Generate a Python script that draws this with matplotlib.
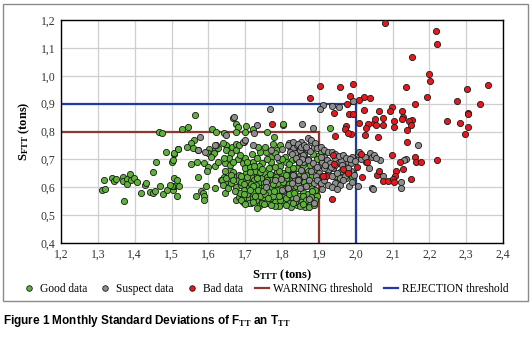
import numpy as np
import matplotlib
matplotlib.use("Agg")
import matplotlib.pyplot as plt
from matplotlib.ticker import FuncFormatter, MultipleLocator
from matplotlib.patches import Rectangle
from matplotlib.lines import Line2D

plt.rcParams['font.family'] = ['Liberation Serif', 'DejaVu Serif']
plt.rcParams['mathtext.fontset'] = 'custom'
plt.rcParams['mathtext.rm'] = 'Liberation Serif'
plt.rcParams['mathtext.bf'] = 'Liberation Serif:bold'

# ---------------- data (S_TTT, S_FTT) ----------------
good_pts = [
    (1.310,0.591),(1.319,0.594),(1.318,0.627),(1.338,0.634),(1.345,0.622),(1.350,0.630),(1.367,0.638),
    (1.367,0.624),(1.379,0.630),(1.379,0.612),(1.388,0.647),(1.391,0.627),(1.399,0.633),(1.406,0.618),
    (1.370,0.552),(1.418,0.579),(1.429,0.609),(1.432,0.615),(1.442,0.583),(1.449,0.581),(1.456,0.585),
    (1.469,0.603),(1.478,0.576),(1.489,0.591),(1.503,0.591),(1.506,0.605),(1.513,0.609),(1.521,0.605),
    (1.515,0.567),(1.501,0.605),(1.495,0.609),(1.506,0.633),(1.516,0.627),
    (1.467,0.800),(1.474,0.794),(1.528,0.810),(1.546,0.816),(1.563,0.860),(1.611,0.810),(1.485,0.727),
    (1.519,0.738),(1.507,0.721),(1.458,0.692),(1.501,0.692),(1.503,0.698),(1.449,0.654),
    (1.562,0.770),(1.553,0.758),(1.542,0.746),(1.558,0.740),(1.573,0.734),(1.603,0.736),(1.598,0.722),
    (1.609,0.716),(1.618,0.734),(1.626,0.740),(1.615,0.722),(1.606,0.710),(1.506,0.722),(1.519,0.736),
    (1.553,0.683),(1.569,0.689),(1.589,0.686),(1.598,0.674),(1.597,0.660),(1.618,0.677),(1.571,0.635),
    (1.579,0.588),(1.585,0.581),(1.589,0.567),(1.589,0.555),(1.567,0.567),(1.594,0.603),(1.618,0.597),
    (1.634,0.627),(1.642,0.636),(1.646,0.620),(1.646,0.579),
    (1.668,0.850),(1.676,0.828),(1.680,0.816),(1.702,0.818),(1.720,0.808),(1.700,0.800),(1.760,0.800),
    (1.802,0.824),(1.804,0.828),(1.622,0.799),(1.643,0.795),(1.674,0.799),(1.778,0.779),
    (1.622,0.751),(1.648,0.751),(1.665,0.745),(1.676,0.755),(1.696,0.763),(1.787,0.733),(1.835,0.739),
    (1.843,0.751),(1.931,0.811),(1.907,0.727),(1.895,0.712),
    (1.640,0.758),(1.649,0.734),(1.662,0.722),(1.676,0.734),(1.684,0.752),(1.627,0.692),(1.645,0.686),
    (1.693,0.686),(1.707,0.686),(1.720,0.692),(1.733,0.704),(1.747,0.686),(1.756,0.728),(1.769,0.710),
    (1.782,0.722),(1.791,0.698),(1.809,0.710),(1.827,0.698),(1.845,0.686),(1.858,0.680),
    (1.636,0.626),(1.649,0.632),(1.658,0.662),(1.667,0.656),(1.671,0.638),(1.680,0.626),(1.684,0.644),
    (1.693,0.632),(1.702,0.650),(1.707,0.620),(1.716,0.638),(1.724,0.626),(1.733,0.644),(1.738,0.620),
    (1.747,0.632),(1.751,0.650),(1.760,0.638),(1.769,0.626),(1.778,0.644),(1.787,0.656),(1.796,0.638),
    (1.804,0.650),(1.813,0.632),(1.822,0.662),(1.831,0.650),(1.840,0.668),(1.849,0.644),(1.858,0.656),
    (1.640,0.608),(1.653,0.596),(1.662,0.614),(1.676,0.602),(1.689,0.608),(1.698,0.590),(1.711,0.602),
    (1.720,0.584),(1.729,0.608),(1.742,0.596),(1.756,0.602),(1.765,0.584),(1.773,0.602),(1.787,0.590),
    (1.800,0.608),(1.809,0.584),(1.822,0.602),(1.836,0.590),(1.849,0.608),(1.858,0.584),
    (1.676,0.554),(1.684,0.566),(1.693,0.548),(1.707,0.560),(1.716,0.543),(1.729,0.554),(1.738,0.531),
    (1.747,0.560),(1.760,0.543),(1.769,0.560),(1.782,0.548),(1.791,0.531),(1.804,0.554),(1.818,0.543),
    (1.831,0.560),(1.840,0.537),(1.853,0.554),
    (1.662,0.645),(1.690,0.620),(1.700,0.668),(1.715,0.612),(1.728,0.660),(1.740,0.570),(1.752,0.615),
    (1.765,0.668),(1.775,0.570),(1.790,0.615),(1.805,0.575),(1.815,0.665),(1.825,0.620),(1.835,0.548),
    (1.845,0.570),(1.860,0.620),(1.870,0.575),(1.880,0.600),(1.885,0.560),(1.875,0.540),(1.862,0.528),
    (1.848,0.532),(1.825,0.528),(1.812,0.560),(1.795,0.555),(1.780,0.532),(1.755,0.575),(1.745,0.545),
    (1.732,0.527),(1.720,0.560),(1.705,0.575),(1.695,0.560),(1.685,0.580),(1.672,0.585),(1.668,0.625),
    (1.700,0.705),(1.712,0.672),(1.738,0.678),(1.770,0.690),(1.795,0.675),(1.810,0.690),(1.838,0.700),
    (1.870,0.660),(1.880,0.640),(1.890,0.590),(1.895,0.570),(1.870,0.700),(1.860,0.720),(1.885,0.720),
    (1.895,0.700),(1.680,0.700),(1.660,0.680),(1.645,0.660),(1.690,0.555),(1.710,0.545),
    (1.905,0.680),(1.925,0.650),(1.945,0.640),(1.960,0.660),(1.975,0.633),(1.948,0.615),(1.990,0.640),
    (1.688,0.640),(1.697,0.612),(1.705,0.635),(1.713,0.655),(1.722,0.605),(1.731,0.632),(1.741,0.655),
    (1.750,0.600),(1.758,0.625),(1.767,0.648),(1.776,0.612),(1.784,0.636),(1.793,0.660),(1.802,0.620),
    (1.811,0.645),(1.819,0.612),(1.828,0.636),(1.837,0.605),(1.846,0.630),(1.855,0.600),(1.864,0.645),
    (1.873,0.615),(1.882,0.585),(1.890,0.555),(1.697,0.575),(1.712,0.590),(1.726,0.570),(1.735,0.590),
    (1.749,0.585),(1.762,0.560),(1.778,0.585),(1.792,0.570),(1.806,0.595),(1.818,0.575),(1.832,0.580),
    (1.856,0.570),(1.866,0.555),(1.878,0.565),(1.700,0.540),(1.722,0.548),(1.752,0.540),(1.770,0.538),
    (1.812,0.538),(1.830,0.545),(1.858,0.540),(1.872,0.530),(1.888,0.535),(1.705,0.690),(1.725,0.675),
    (1.745,0.665),(1.760,0.700),(1.780,0.672),(1.800,0.700),(1.820,0.685),(1.830,0.670),(1.850,0.710),
    (1.875,0.680),(1.890,0.665),(1.655,0.705),(1.668,0.690),(1.642,0.705),(1.686,0.715),(1.718,0.720),
    (1.740,0.725),(1.735,0.745),(1.755,0.745),(1.775,0.755),(1.795,0.750),
]

suspect_pts = [
    (1.767,0.880),(1.671,0.851),(1.733,0.825),(1.724,0.796),(1.649,0.787),(1.618,0.752),(1.693,0.764),
    (1.720,0.752),(1.855,0.828),(1.883,0.812),(1.578,0.780),(1.572,0.734),(1.590,0.725),
    (1.911,0.896),(1.904,0.882),(1.937,0.892),(1.955,0.887),(1.992,0.908),
    (1.700,0.769),(1.770,0.733),(1.800,0.736),(1.822,0.745),(1.837,0.727),(1.757,0.620),(1.796,0.629),
    (1.826,0.644),(1.835,0.626),(1.804,0.585),(1.843,0.614),
    (1.787,0.710),(1.818,0.758),(1.831,0.740),(1.840,0.752),(1.852,0.764),(1.822,0.728),(1.836,0.722),
    (1.849,0.734),(1.858,0.716),(1.844,0.626),(1.782,0.626),(1.800,0.590),(1.756,0.602),
    (1.817,0.751),(1.830,0.762),(1.843,0.756),(1.852,0.745),(1.861,0.751),(1.867,0.739),(1.878,0.762),
    (1.876,0.731),(1.887,0.745),
    (1.826,0.721),(1.839,0.704),(1.857,0.692),(1.870,0.698),(1.883,0.686),(1.896,0.674),(1.909,0.692),
    (1.913,0.709),(1.922,0.698),(1.930,0.686),(1.944,0.704),(1.952,0.686),(1.961,0.698),(1.970,0.674),
    (1.978,0.692),(1.987,0.686),(1.991,0.709),(1.939,0.668),(1.926,0.662),(1.913,0.668),(1.900,0.651),
    (1.891,0.639),(1.909,0.639),(1.922,0.645),(1.935,0.639),(1.948,0.651),(1.957,0.633),(1.970,0.639),
    (1.987,0.657),(1.978,0.657),(1.996,0.645),
    (1.830,0.645),(1.843,0.627),(1.861,0.639),(1.874,0.627),(1.887,0.615),(1.865,0.604),(1.848,0.598),
    (1.878,0.657),(1.852,0.662),(1.909,0.592),(1.926,0.609),(1.944,0.615),(1.957,0.609),(1.817,0.598),
    (1.826,0.615),(1.839,0.562),(1.874,0.557),(1.887,0.545),
    (2.006,0.718),(2.029,0.692),(2.043,0.598),(2.169,0.752),(2.137,0.701),(2.131,0.696),(2.124,0.618),
    (2.124,0.599),(2.009,0.725),(2.038,0.722),(2.044,0.710),(2.035,0.668),(2.065,0.698),(2.046,0.594),
    (2.073,0.640),(1.982,0.605),(2.006,0.605),
    (1.870,0.775),(1.880,0.770),(1.890,0.760),(1.895,0.740),(1.905,0.745),(1.915,0.735),(1.925,0.725),
    (1.935,0.725),(1.945,0.718),(1.955,0.712),(1.965,0.715),(1.975,0.705),(1.985,0.700),(1.998,0.695),
    (2.015,0.700),(2.025,0.710),(2.050,0.715),(2.055,0.705),(1.905,0.710),(1.918,0.680),(1.932,0.672),
    (1.945,0.680),(1.962,0.680),(1.980,0.670),(1.895,0.625),(1.905,0.615),(1.915,0.625),(1.935,0.600),
    (1.950,0.595),(1.965,0.625),(1.990,0.620),(1.865,0.745),(1.855,0.700),(1.845,0.690),
]

bad_pts = [
    (2.079,1.188),(2.218,1.160),(2.220,1.114),(2.152,1.066),(2.198,1.005),(2.203,0.982),(2.136,0.958),
    (2.359,0.967),(2.302,0.952),(2.195,0.925),(2.275,0.909),(2.338,0.899),(2.162,0.899),(1.904,0.964),
    (1.958,0.958),(1.992,0.972),(1.877,0.921),(2.023,0.925),(2.040,0.920),(2.009,0.913),(1.985,0.927),
    (1.977,0.899),(2.099,0.889),(2.023,0.876),(2.063,0.875),(2.094,0.873),(2.127,0.873),(2.304,0.866),
    (1.940,0.868),(1.982,0.863),(1.994,0.863),(1.973,0.820),(1.971,0.808),(1.987,0.792),(1.978,0.794),
    (1.945,0.784),(2.010,0.830),(2.033,0.828),(2.049,0.832),(2.029,0.812),(2.053,0.844),(2.073,0.848),
    (2.056,0.825),(2.075,0.824),(2.024,0.786),(2.060,0.782),(1.938,0.717),(2.015,0.719),(2.031,0.690),
    (2.004,0.674),(1.965,0.665),(1.940,0.684),(1.920,0.641),(1.912,0.641),(2.018,0.638),(2.059,0.643),
    (2.073,0.624),(2.088,0.624),(2.062,0.660),(1.935,0.557),(1.978,0.650),(1.772,0.828),
    (2.305,0.862),(2.128,0.851),(2.126,0.844),(2.153,0.842),(2.146,0.837),(2.151,0.823),(2.140,0.804),
    (2.104,0.836),(2.104,0.815),(2.247,0.838),(2.284,0.829),(2.306,0.817),(2.296,0.792),(2.139,0.762),
    (2.099,0.714),(2.160,0.707),(2.164,0.690),(2.178,0.690),(2.221,0.699),(2.120,0.690),(2.129,0.667),
    (2.110,0.660),(2.108,0.642),(2.151,0.630),(2.100,0.630),(2.104,0.620),
]

warning_x, warning_y = 1.9, 0.8
rejection_x, rejection_y = 2.0, 0.9

labels = ['Good data', 'Suspect data', 'Bad data', 'WARNING threshold', 'REJECTION threshold']
c_good, c_susp, c_bad = '#5eb13a', '#8e8e8e', '#e5181e'
c_warn, c_rej = '#8b3a2e', '#1f3c9e'

# ---------------- figure ----------------
W, H = 532, 338
fig = plt.figure(figsize=(W/100, H/100), dpi=100)
fig.patches.append(Rectangle((3/W, 1-301/H), 525/W, 297/H, transform=fig.transFigure,
                             fill=False, edgecolor='#8a8a8a', linewidth=1.0))
ax = fig.add_axes([61/W, 1-243/H, (503-61)/W, (243-20)/H])

ax.set_xlim(1.2, 2.4)
ax.set_ylim(0.4, 1.2)
ax.xaxis.set_major_locator(MultipleLocator(0.1))
ax.yaxis.set_major_locator(MultipleLocator(0.1))
fmt = FuncFormatter(lambda v, p: f'{v:.1f}'.replace('.', ','))
ax.xaxis.set_major_formatter(fmt)
ax.yaxis.set_major_formatter(fmt)
ax.grid(True, color='#cfcfcf', linewidth=0.9)
ax.set_axisbelow(True)
ax.tick_params(length=0, labelsize=8.5, colors='#333333', pad=4)
for s in ax.spines.values():
    s.set_linewidth(1.0)
    s.set_color('black')

ax.plot([1.2, warning_x], [warning_y, warning_y], color=c_warn, lw=1.6, zorder=2)
ax.plot([warning_x, warning_x], [0.4, warning_y], color=c_warn, lw=1.6, zorder=2)
ax.plot([1.2, rejection_x], [rejection_y, rejection_y], color=c_rej, lw=1.6, zorder=2)
ax.plot([rejection_x, rejection_x], [0.4, rejection_y], color=c_rej, lw=1.6, zorder=2)

for pts, col in [(good_pts, c_good), (suspect_pts, c_susp), (bad_pts, c_bad)]:
    a = np.array(pts)
    ax.scatter(a[:, 0], a[:, 1], s=20, c=col, edgecolors='#1a1a1a', linewidths=0.6, zorder=3)

ax.set_xlabel(r'$\mathbf{S_{TTT}}$ (tons)', fontsize=9, fontweight='bold', labelpad=5)
ax.set_ylabel(r'$\mathbf{S_{FTT}}$ (tons)', fontsize=9, fontweight='bold', labelpad=6)

handles = [
    Line2D([], [], ls='none', marker='o', ms=4, mfc=c_good, mec='#1a1a1a', mew=0.6),
    Line2D([], [], ls='none', marker='o', ms=4, mfc=c_susp, mec='#1a1a1a', mew=0.6),
    Line2D([], [], ls='none', marker='o', ms=4, mfc=c_bad, mec='#1a1a1a', mew=0.6),
    Line2D([], [], color=c_warn, lw=1.6),
    Line2D([], [], color=c_rej, lw=1.6),
]
fig.legend(handles, labels, loc='center', bbox_to_anchor=(265/W, 1-289/H), ncol=5, frameon=False,
           fontsize=8.3, handlelength=1.2, handletextpad=0.35, columnspacing=1.0, borderaxespad=0)

fig.text(3/W, 1-321/H, r'Figure 1 Monthly Standard Deviations of F$_{\mathbf{TT}}$ an T$_{\mathbf{TT}}$',
         family=['Liberation Sans', 'DejaVu Sans'], fontweight='bold', fontsize=8.5, va='center', ha='left')

fig.savefig('out.png', dpi=100)
